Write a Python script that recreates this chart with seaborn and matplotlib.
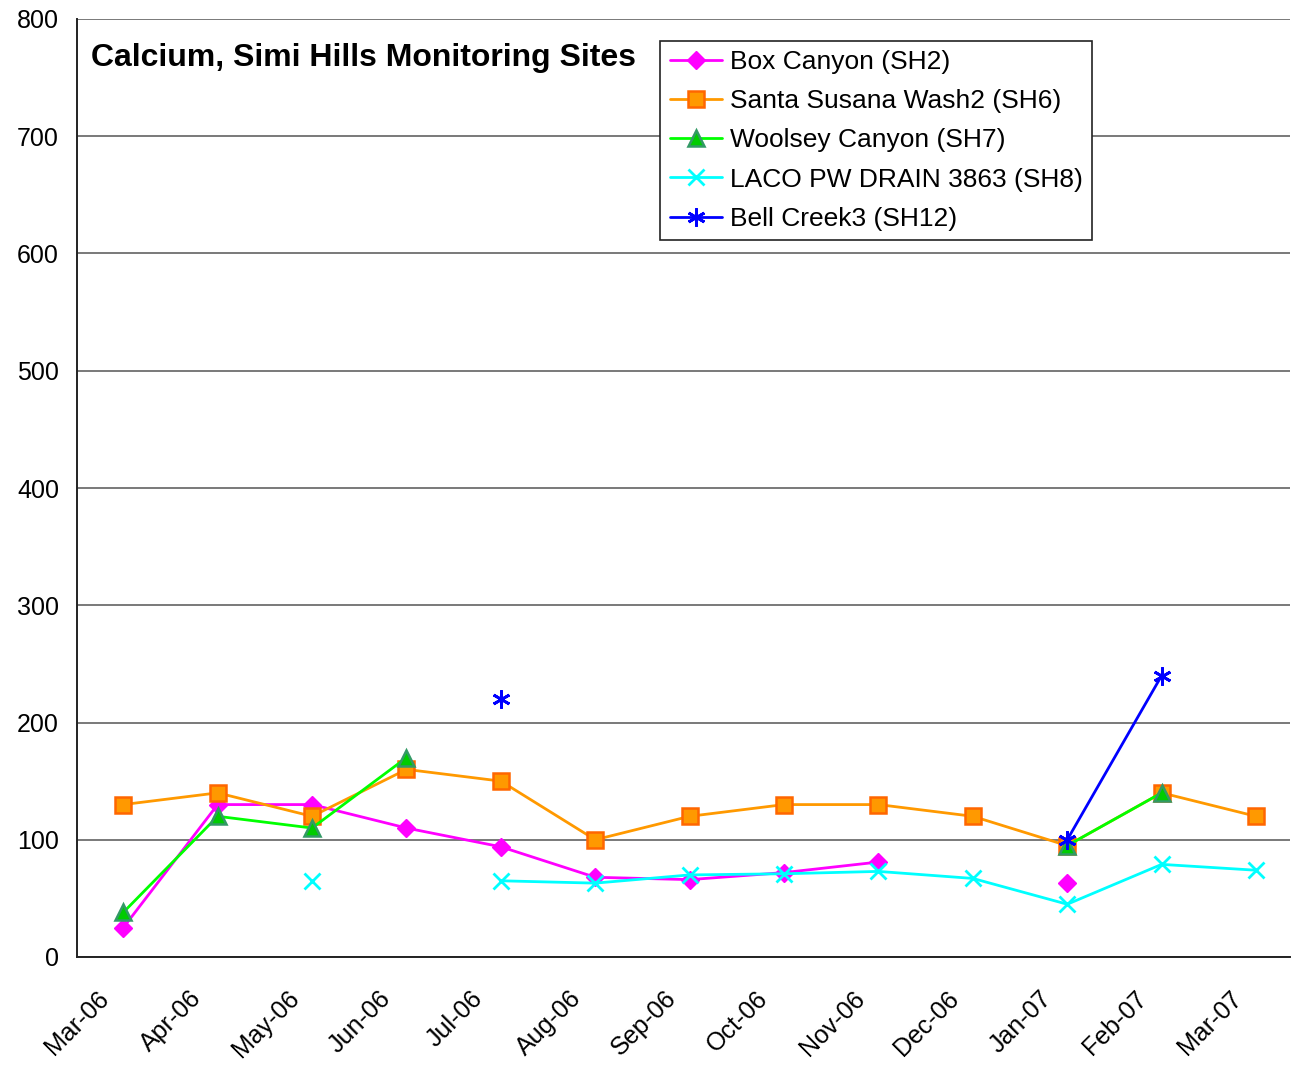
import numpy as np
import pandas as pd
import seaborn as sns
import matplotlib.pyplot as plt

# months shown on the axis, samples taken mid-month
months = ['Mar-06', 'Apr-06', 'May-06', 'Jun-06', 'Jul-06', 'Aug-06', 'Sep-06',
          'Oct-06', 'Nov-06', 'Dec-06', 'Jan-07', 'Feb-07', 'Mar-07']
nan = np.nan
box_canyon = [25, 130, 130, 110, 94, 68, 66, 72, 81, nan, 63, nan, nan]
santa_susana = [130, 140, 120, 160, 150, 100, 120, 130, 130, 120, 95, 140, 120]
woolsey = [38, 120, 110, 170, nan, nan, nan, nan, nan, nan, 95, 140, nan]
laco_drain = [nan, nan, 65, nan, 65, 63, 70, 71, 73, 67, 45, 79, 74]
bell_creek = [nan, nan, nan, nan, 220, nan, nan, nan, nan, nan, 100, 240, nan]

series = [
    ('Box Canyon (SH2)', box_canyon, dict(color='#FF00FF', marker='D', ms=9, mfc='#FF00FF', mec='#FF00FF')),
    ('Santa Susana Wash2 (SH6)', santa_susana, dict(color='#FF9900', marker='s', ms=11, mfc='#FF9900', mec='#FF6600', mew=1.8)),
    ('Woolsey Canyon (SH7)', woolsey, dict(color='#00FF00', marker='^', ms=11, mfc='#00CC00', mec='#339966', mew=1.8)),
    ('LACO PW DRAIN 3863 (SH8)', laco_drain, dict(color='#00FFFF', marker='x', ms=11, mec='#00FFFF', mew=2)),
    ('Bell Creek3 (SH12)', bell_creek, dict(color='#0000FF', marker=(6, 2, 0), ms=13, mec='#0000FF', mew=2)),
]

sns.set_style('white')
plt.rcParams['font.family'] = ['Liberation Sans', 'DejaVu Sans']
plt.rcParams['text.color'] = 'black'
plt.rcParams['xtick.color'] = 'black'
plt.rcParams['ytick.color'] = 'black'

fig = plt.figure(figsize=(12.91, 10.65), dpi=100)
ax = fig.add_axes([77 / 1291, 1 - 957 / 1065, 1213 / 1291, 938 / 1065])

xpos = np.arange(len(months)) + 0.49
handles = []
for name, vals, st in series:
    df = pd.DataFrame({'x': xpos, 'y': vals})
    df['seg'] = df['y'].isna().cumsum()
    df = df.dropna()
    for _, seg in df.groupby('seg'):
        sns.lineplot(data=seg, x='x', y='y', ax=ax, lw=2, markersize=st['ms'],
                     marker=st['marker'], color=st['color'],
                     markerfacecolor=st.get('mfc', st['color']),
                     markeredgecolor=st['mec'], markeredgewidth=st.get('mew', 1),
                     legend=False)
    h, = ax.plot([], [], lw=2, marker=st['marker'], color=st['color'], markersize=st['ms'],
                 markerfacecolor=st.get('mfc', st['color']), markeredgecolor=st['mec'],
                 markeredgewidth=st.get('mew', 1))
    handles.append((h, name))

ax.set_xlim(0, 1213 / 94.4)
ax.set_ylim(0, 800)
ax.set_yticks(range(0, 801, 100))
ax.set_xticks(range(len(months)))
ax.set_xticklabels(months, rotation=45, ha='center', va='top')
ax.tick_params(axis='both', direction='out', length=6, width=1.2, color='#333333',
               labelsize=18, labelcolor='black')
ax.tick_params(axis='x', pad=15)
ax.tick_params(axis='y', pad=7)
ax.set_xlabel('')
ax.set_ylabel('')
ax.yaxis.grid(True, color='#555555', lw=1.1)
ax.set_axisbelow(True)
for s in ['top', 'right']:
    ax.spines[s].set_visible(False)
for s in ['left', 'bottom']:
    ax.spines[s].set_color('#222222')
    ax.spines[s].set_linewidth(1.4)

ax.text(0.0115, 0.958, 'Calcium, Simi Hills Monitoring Sites', transform=ax.transAxes,
        fontsize=23, fontweight='bold', va='center', ha='left')

leg = ax.legend([h for h, _ in handles], [n for _, n in handles], loc='upper left',
                bbox_to_anchor=(0.481, 0.977), borderaxespad=0, fontsize=19,
                frameon=True, fancybox=False, edgecolor='#222222', framealpha=1,
                handlelength=2.0, labelspacing=0.58, borderpad=0.35, handletextpad=0.3)
leg.get_frame().set_linewidth(1.2)

fig.savefig('out.png', dpi=100)
